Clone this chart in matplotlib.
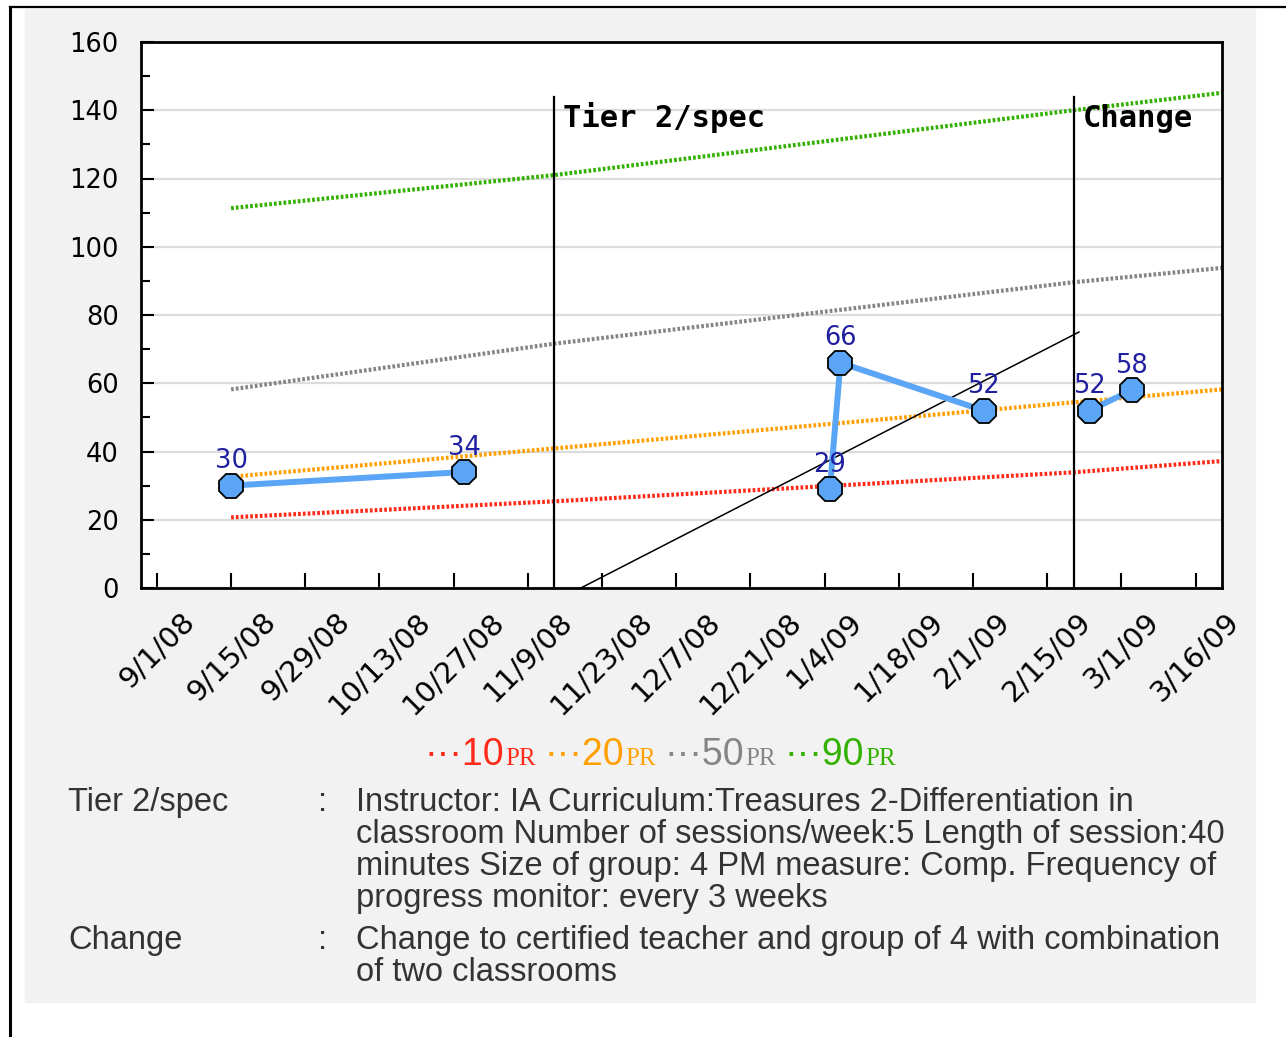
import matplotlib
matplotlib.use("Agg")
import matplotlib.pyplot as plt
import pandas as pd
from matplotlib.lines import Line2D
from matplotlib.patches import Rectangle
from matplotlib.offsetbox import TextArea, HPacker, AnnotationBbox

W, H = 1286, 1037

# ── Data ─────────────────────────────────────────────────────────────────────
SCORE_DATES = ["2008-09-15", "2008-10-29", "2009-01-06", "2009-01-08",
               "2009-02-04", "2009-02-24", "2009-03-04"]
SCORES = [30, 34, 29, 66, 52, 52, 58]
SCORE_PHASE = [0, 0, 1, 1, 1, 2, 2]

PHASE_NAMES = ["Tier 2/spec", "Change"]
PHASE_DATES = ["2008-11-15", "2009-02-21"]

# percentile reference lines (read at start, phase lines and right edge)
PR_NAMES = ["10", "20", "50", "90"]
PR_DATES = ["2008-09-15", "2008-11-15", "2009-02-21", "2009-03-21"]
PR_VALUES = {
    "10": [20.7, 25.4, 33.9, 37.2],
    "20": [32.6, 40.9, 54.4, 58.2],
    "50": [58.2, 71.6, 89.6, 93.8],
    "90": [111.3, 121.0, 140.0, 145.1],
}
PR_COLORS = {"10": "#ff2a1a", "20": "#ffa000", "50": "#858585", "90": "#33b000"}

TREND_DATES = ["2008-11-20", "2009-02-22"]
TREND_VALUES = [0, 75]

TICK_DATES = pd.date_range("2008-09-01", periods=15, freq="14D")
TICK_LABELS = ["9/1/08", "9/15/08", "9/29/08", "10/13/08", "10/27/08", "11/9/08",
               "11/23/08", "12/7/08", "12/21/08", "1/4/09", "1/18/09", "2/1/09",
               "2/15/09", "3/1/09", "3/16/09"]

NOTES = [
    ("Tier 2/spec", ["Instructor: IA Curriculum:Treasures 2-Differentiation in",
                     "classroom Number of sessions/week:5 Length of session:40",
                     "minutes Size of group: 4 PM measure: Comp. Frequency of",
                     "progress monitor: every 3 weeks"]),
    ("Change", ["Change to certified teacher and group of 4 with combination",
                "of two classrooms"]),
]

BLUE = "#5aa5f5"
NAVY = "#1f1fa0"

fig = plt.figure(figsize=(W / 100, H / 100), dpi=100)
fig.patch.set_facecolor("white")

# gray panel + frame lines
fig.patches.append(Rectangle((25 / W, 1 - 1002 / H), (1255 - 25) / W, (1002 - 9) / H,
                             transform=fig.transFigure, color="#f2f2f2", zorder=-5))
fig.lines.append(Line2D([10 / W, 10 / W], [0, 1 - 7 / H], transform=fig.transFigure,
                        color="black", lw=2.2, zorder=-4))
fig.lines.append(Line2D([10 / W, 1], [1 - 7 / H, 1 - 7 / H], transform=fig.transFigure,
                        color="black", lw=1.6, zorder=-4))

ax = fig.add_axes([141 / W, 1 - 588 / H, (1222 - 141) / W, (588 - 42) / H])
ax.set_zorder(1)
ax.set_facecolor("white")

ax.set_xlim(pd.Timestamp("2008-08-29"), pd.Timestamp("2009-03-21"))
ax.set_ylim(0, 160)
ax.set_yticks(range(0, 161, 20))
ax.set_yticks(range(10, 160, 20), minor=True)
ax.set_xticks(TICK_DATES)
ax.set_xticklabels(TICK_LABELS, rotation=45, ha="center", va="top", fontsize=21)
ax.tick_params(axis="y", which="major", direction="in", length=9.5, width=1.5,
               labelsize=18.5, pad=16)
ax.tick_params(axis="y", which="minor", direction="in", length=6.5, width=1.5)
ax.tick_params(axis="x", which="major", direction="in", length=10.5, width=1.5, pad=14)
for sp in ax.spines.values():
    sp.set_linewidth(2)
ax.grid(True, axis="y", color="#dcdcdc", lw=1.6, zorder=0)
ax.set_axisbelow(True)

# percentile lines
pr_x = pd.to_datetime(PR_DATES)
for name in PR_NAMES:
    ax.plot(pr_x, PR_VALUES[name], color=PR_COLORS[name], lw=3,
            linestyle=(0, (0.65, 0.5)), zorder=2)

# phase change lines
for name, d in zip(PHASE_NAMES, pd.to_datetime(PHASE_DATES)):
    ax.plot([d, d], [0, 144], color="black", lw=1.6, zorder=3)
    ax.annotate(name, (d, 135), xytext=(6.5, 0), textcoords="offset points",
                va="baseline", ha="left", fontsize=22, fontweight="bold",
                family="DejaVu Sans Mono", zorder=6)

# trend line
ax.plot(pd.to_datetime(TREND_DATES), TREND_VALUES, color="black", lw=1.1, zorder=4)

# scores, one segment per phase
sx = pd.to_datetime(SCORE_DATES)
for ph in sorted(set(SCORE_PHASE)):
    idx = [i for i, p in enumerate(SCORE_PHASE) if p == ph]
    ax.plot([sx[i] for i in idx], [SCORES[i] for i in idx], color=BLUE, lw=4.3,
            marker="8", markersize=18, markerfacecolor=BLUE, markeredgecolor="black",
            markeredgewidth=1.3, zorder=5)
for d, v in zip(sx, SCORES):
    ax.annotate(str(v), (d, v), xytext=(0, 12.5), textcoords="offset points",
                ha="center", va="baseline", fontsize=18.5, color=NAVY, zorder=7)

# legend row
groups = []
for name in PR_NAMES:
    c = PR_COLORS[name]
    num = TextArea("\u00b7\u00b7\u00b7" + name,
                   textprops=dict(color=c, fontsize=27, family="Liberation Sans"))
    pr = TextArea("PR", textprops=dict(color=c, fontsize=18, family="Liberation Serif"))
    groups.append(HPacker(children=[num, pr], align="baseline", pad=0, sep=1))
leg = HPacker(children=groups, align="baseline", pad=0, sep=6)
fig.add_artist(AnnotationBbox(leg, (660 / W, 1 - 755 / H), xycoords="figure fraction",
                              frameon=False, box_alignment=(0.5, 0.5)))

# notes
y = 811
for label, lines in NOTES:
    fig.text(68 / W, 1 - y / H, label, fontsize=23.5, color="#333333",
             family="Liberation Sans", va="baseline")
    fig.text(323 / W, 1 - y / H, ":", fontsize=23.5, color="#333333",
             family="Liberation Sans", va="baseline", ha="center")
    for ln in lines:
        fig.text(356 / W, 1 - y / H, ln, fontsize=23.5, color="#333333",
                 family="Liberation Sans", va="baseline")
        y += 32
    y += 10

fig.savefig("out.png", dpi=100)
